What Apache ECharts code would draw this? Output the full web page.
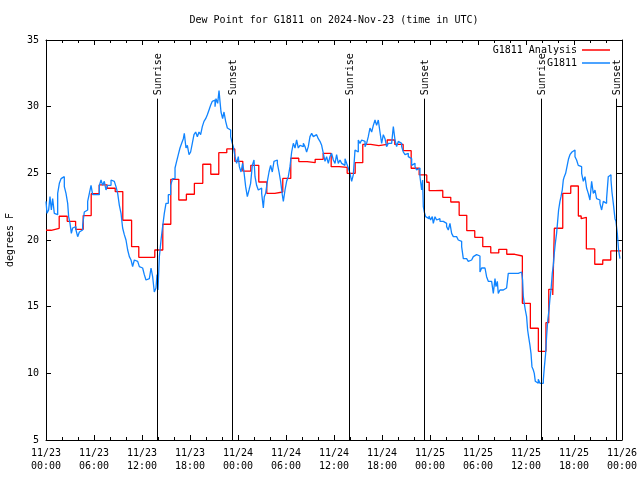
<!DOCTYPE html>
<html><head><meta charset="utf-8">
<script src="https://cdn.jsdelivr.net/npm/echarts@6/dist/echarts.min.js"></script>
<style>html,body{margin:0;padding:0;background:#fff}#c{width:640px;height:480px}</style>
</head><body><div id="c"></div>
<script>
const xTickLabels = ['11/23\n00:00','11/23\n06:00','11/23\n12:00','11/23\n18:00','11/24\n00:00','11/24\n06:00','11/24\n12:00','11/24\n18:00','11/25\n00:00','11/25\n06:00','11/25\n12:00','11/25\n18:00','11/26\n00:00'];
const sunHours = [13.92, 23.29, 37.96, 47.33, 61.96, 71.33];
const sunLabels = ['Sunrise','Sunset','Sunrise','Sunset','Sunrise','Sunset'];
const redHours = [0,0.65,1.65,2.65,3.7,4.65,5.65,6.65,7.65,8.65,9.6,10.7,11.6,13.6,14.6,15.6,16.6,17.55,18.55,19.6,20.6,21.6,22.6,23.6,24.6,25.6,26.6,27.6,28.6,29.6,30.6,31.6,32.65,33.65,34.65,35.65,36.65,37.65,38.65,39.6,40.6,41.6,42.65,43.6,44.65,45.65,46.65,47.6,47.9,48.6,49.6,50.6,51.65,52.6,53.6,54.6,55.6,56.6,57.6,58.6,59.55,60.55,61.55,62.5,62.85,63.35,63.55,64.6,65.6,66.55,66.9,67.15,67.55,68.6,69.6,70.6,71.9];
const redValues = [20.73,20.88,21.78,21.4,20.8,21.83,23.47,24.13,23.88,23.63,21.48,19.5,18.7,19.25,21.18,24.55,23.0,23.43,24.25,25.68,24.93,26.55,26.83,25.9,25.17,25.6,24.35,23.5,23.6,24.62,26.13,25.88,25.8,26.05,26.5,25.5,25.45,25.0,25.8,27.17,27.08,27.17,27.5,27.17,26.7,25.38,24.88,24.33,23.7,23.72,23.2,22.85,21.85,20.7,20.2,19.5,19.03,19.3,18.93,18.8,15.25,13.38,11.65,13.8,16.3,15.88,20.88,23.5,24.05,21.8,21.6,21.7,19.33,18.18,18.5,19.18,19.18];
const blueHours = [0,0.13,0.33,0.5,0.67,0.83,1.04,1.25,1.46,1.67,1.88,2.08,2.29,2.5,2.71,2.83,3.0,3.17,3.33,3.54,3.75,3.96,4.17,4.38,4.58,4.79,5.0,5.21,5.42,5.63,5.83,6.04,6.25,6.46,6.67,6.88,7.08,7.29,7.5,7.71,7.92,8.13,8.33,8.54,8.75,8.96,9.17,9.38,9.58,9.79,10.0,10.21,10.42,10.63,10.83,11.04,11.25,11.46,11.67,11.88,12.08,12.29,12.5,12.71,12.92,13.13,13.33,13.54,13.75,13.88,14.0,14.17,14.38,14.58,14.79,15.0,15.29,15.58,15.83,16.13,16.33,16.54,16.75,16.96,17.17,17.29,17.5,17.67,17.88,18.08,18.29,18.5,18.71,18.92,19.13,19.33,19.54,19.75,19.96,20.17,20.38,20.58,20.79,21.0,21.13,21.25,21.46,21.63,21.75,21.88,22.08,22.25,22.46,22.67,22.88,23.08,23.29,
23.42,23.63,23.83,24.04,24.17,24.38,24.58,24.75,24.96,25.17,25.38,25.58,25.79,26.0,26.13,26.33,26.54,26.75,26.96,27.17,27.29,27.46,27.67,27.88,28.08,28.29,28.5,28.71,28.92,29.13,29.33,29.54,29.67,29.88,30.08,30.29,30.5,30.71,30.92,31.13,31.33,31.54,31.75,31.96,32.17,32.38,32.58,32.79,33.0,33.21,33.42,33.63,33.83,34.04,34.25,34.46,34.67,34.88,35.08,35.29,35.5,35.71,35.92,36.13,36.33,36.54,36.75,36.96,37.17,37.38,37.58,37.79,38.0,38.21,38.42,38.63,38.83,39.04,39.25,39.46,39.67,39.88,40.08,40.29,40.5,40.71,40.92,41.13,41.33,41.54,41.75,41.96,42.17,42.38,42.58,42.79,43.0,43.21,43.42,43.63,43.83,44.04,44.25,44.46,44.67,44.88,45.08,45.29,45.5,45.71,45.92,46.13,46.33,46.54,46.75,
46.96,47.08,47.17,47.29,47.46,47.67,47.88,48.08,48.29,48.42,48.63,48.83,49.04,49.25,49.46,49.67,49.88,50.08,50.29,50.5,50.71,50.92,51.13,51.33,51.54,51.75,51.96,52.17,52.38,52.58,52.79,53.0,53.21,53.42,53.63,53.83,54.04,54.25,54.46,54.67,54.88,55.08,55.29,55.5,55.71,55.92,56.13,56.25,56.42,56.54,56.75,56.96,57.17,57.38,57.58,57.79,58.0,58.21,58.42,58.63,58.83,59.04,59.25,59.46,59.58,59.67,59.79,59.92,60.08,60.21,60.33,60.5,60.63,60.75,60.92,61.04,61.17,61.33,61.54,61.75,61.96,62.17,62.29,62.46,62.58,62.71,62.88,63.0,63.13,63.29,63.42,63.54,63.67,63.83,63.96,64.08,64.25,64.38,64.54,64.67,64.79,64.96,65.08,65.21,65.33,65.5,65.63,65.75,65.92,66.13,66.33,66.54,66.75,66.96,67.17,67.38,67.58,67.79,68.0,68.21,68.42,68.63,68.83,69.04,69.25,69.46,69.67,69.88,70.08,70.29,70.5,70.63,70.75,70.92,71.13,71.25,71.42,71.58,71.75];
const blueValues = [22.9,22.0,22.25,23.25,22.25,23.1,22.0,21.9,23.5,24.25,24.6,24.75,24.0,23.5,22.75,21.75,21.25,20.5,20.9,21.0,20.75,20.25,20.6,20.75,21.1,22.1,22.25,22.9,23.5,24.1,23.4,23.4,23.5,23.4,24.1,24.5,24.1,24.4,23.75,24.1,24.1,24.5,24.4,24.5,24.0,23.5,22.6,22.0,20.9,20.4,20.0,19.25,18.75,18.5,18.0,18.5,18.4,18.5,18.0,17.9,17.9,17.4,17.0,17.1,17.25,17.9,17.25,16.1,16.4,17.4,16.25,18.75,20.0,21.0,22.0,22.75,23.4,24.1,24.6,25.4,25.9,26.4,26.9,27.25,27.6,28.0,26.9,27.1,26.4,26.6,27.25,27.9,28.1,27.75,28.1,27.9,28.5,28.9,29.1,29.4,29.75,30.1,30.4,30.5,30.0,30.6,30.25,31.2,30.4,29.6,29.1,29.6,28.9,28.4,28.25,27.75,27.25,
27.0,26.25,25.75,26.25,25.5,25.1,25.75,25.1,24.0,23.25,23.75,24.25,25.6,26.0,24.75,24.1,23.75,23.9,23.5,22.4,23.25,23.5,24.4,25.1,25.6,25.1,25.9,26.0,25.75,25.1,24.4,23.4,22.9,23.75,24.4,24.75,25.5,26.6,27.25,26.9,27.5,26.9,27.1,27.0,27.25,27.0,26.6,27.0,27.75,28.0,27.75,27.9,27.9,27.6,27.4,27.1,26.5,25.9,26.25,25.75,26.25,26.5,26.0,25.75,26.4,25.75,26.0,25.75,25.6,26.1,25.75,25.4,25.0,24.4,24.9,26.75,26.6,27.5,27.25,27.5,27.4,27.0,27.25,27.75,28.4,28.1,28.6,29.0,28.6,29.0,28.1,27.25,27.9,27.6,27.0,27.25,27.25,27.25,28.5,27.5,27.0,27.4,27.25,27.0,26.6,26.4,26.5,26.25,26.1,25.6,25.75,25.5,25.25,25.4,24.75,
23.75,24.5,22.5,22.1,21.75,21.6,21.8,21.5,21.75,21.25,21.75,21.5,21.6,21.4,21.4,21.4,21.25,21.0,20.75,21.25,20.5,20.25,20.25,20.1,20.0,19.9,19.5,18.6,18.6,18.5,18.4,18.5,18.6,18.75,18.9,18.9,18.8,17.6,17.9,17.9,17.75,17.25,16.9,16.9,16.9,16.0,17.1,16.5,16.9,16.0,16.25,16.25,16.25,16.4,16.5,17.5,17.5,17.5,17.5,17.5,17.5,17.6,17.6,17.75,17.0,15.75,15.25,14.75,14.25,13.25,12.75,12.1,11.5,10.5,10.25,10.0,9.4,9.25,9.55,9.25,9.25,9.5,10.4,11.5,12.75,13.9,14.75,15.6,16.25,17.5,18.1,19.0,19.75,20.5,21.4,22.25,22.9,23.25,23.75,24.5,24.75,25.0,25.1,25.75,26.1,26.4,26.25,26.6,26.75,26.25,26.0,25.6,25.5,25.0,24.4,24.75,23.9,23.5,23.0,24.4,23.5,23.75,23.1,23.0,22.75,22.25,22.9,22.75,23.1,24.75,24.9,24.5,23.6,22.75,21.6,21.4,20.5,19.25,18.6];

const FONT = '"DejaVu Sans Mono", "Liberation Mono", monospace';
const zip = (a, b) => a.map((v, i) => [v, b[i]]);

const chart = echarts.init(document.getElementById('c'), null, {renderer: 'canvas'});
function xAxisDef(pos, labels) {
  return {
    type: 'value', min: 0, max: 72, interval: 6, position: pos,
    axisLine: {show: true, onZero: false, lineStyle: {color: '#000', width: 1}},
    axisTick: {show: true, inside: true, length: 5, lineStyle: {color: '#000'}},
    minorTick: {show: true, splitNumber: 3, length: 3, lineStyle: {color: '#000'}},
    splitLine: {show: false}, minorSplitLine: {show: false},
    axisLabel: labels ? {show: true, fontFamily: FONT, fontSize: 10, color: '#000', lineHeight: 13, margin: 7,
        formatter: v => xTickLabels[Math.round(v / 6)]} : {show: false}
  };
}
function yAxisDef(pos, labels) {
  return {
    type: 'value', min: 5, max: 35, interval: 5, position: pos,
    axisLine: {show: true, onZero: false, lineStyle: {color: '#000', width: 1}},
    axisTick: {show: true, inside: true, length: 5, lineStyle: {color: '#000'}},
    splitLine: {show: false},
    axisLabel: labels ? {show: true, fontFamily: FONT, fontSize: 10, color: '#000', margin: 7} : {show: false}
  };
}
chart.setOption({
  animation: false,
  backgroundColor: '#fff',
  grid: {left: 46, right: 18, top: 40, bottom: 40, containLabel: false},
  legend: {
    orient: 'vertical', right: 30, top: 44, padding: 0, itemGap: 1,
    itemWidth: 28, itemHeight: 1.5, align: 'right', icon: 'rect',
    textStyle: {fontFamily: FONT, fontSize: 10, color: '#000', lineHeight: 12},
    data: ['G1811 Analysis', 'G1811']
  },
  xAxis: [xAxisDef('bottom', true), xAxisDef('top', false)],
  yAxis: [yAxisDef('left', true), yAxisDef('right', false)],
  series: [
    {name: 'G1811 Analysis', type: 'line', step: 'end', symbol: 'none', data: zip(redHours, redValues),
     lineStyle: {color: '#ff0000', width: 1.3}, itemStyle: {color: '#ff0000'}, z: 3},
    {name: 'G1811', type: 'line', step: 'end', symbol: 'none', data: zip(blueHours, blueValues),
     lineStyle: {color: '#1084ff', width: 1.3}, itemStyle: {color: '#1084ff'}, z: 4,
     markLine: {silent: true, symbol: ['none', 'none'], label: {show: false},
       lineStyle: {color: '#000', width: 1, type: 'solid'},
       data: sunHours.map(t => [{coord: [t, 5]}, {coord: [t, 30.6]}])}}
  ]
});

const gfx = [
  {type: 'text', x: 334, y: 20, style: {text: 'Dew Point for G1811 on 2024-Nov-23 (time in UTC)', font: '10px ' + FONT, fill: '#000', align: 'center', verticalAlign: 'middle'}},
  {type: 'text', x: 10, y: 240, rotation: Math.PI / 2, style: {text: 'degrees F', font: '10px ' + FONT, fill: '#000', align: 'center', verticalAlign: 'middle'}}
];
sunHours.forEach((t, i) => {
  const p = chart.convertToPixel({xAxisIndex: 0, yAxisIndex: 0}, [t, 30.85]);
  gfx.push({type: 'text', x: p[0] + 1, y: p[1], rotation: Math.PI / 2, z: 10,
    style: {text: sunLabels[i], font: '10px ' + FONT, fill: '#000', align: 'left', verticalAlign: 'middle'}});
});
chart.setOption({graphic: gfx});
</script>
</body></html>
